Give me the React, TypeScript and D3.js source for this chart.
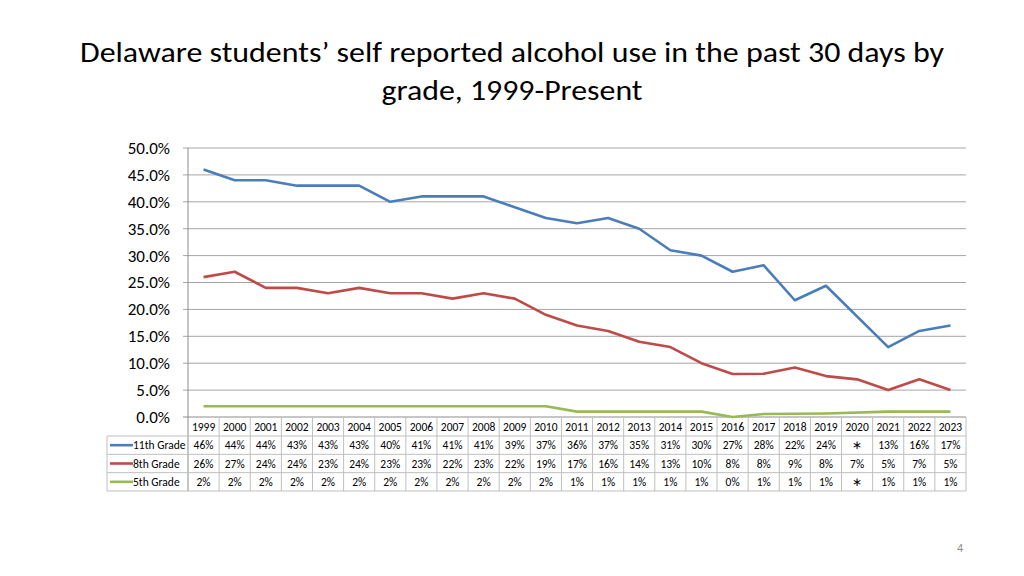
import React from 'react';
import * as d3 from 'd3';

const years = ['1999','2000','2001','2002','2003','2004','2005','2006','2007','2008','2009','2010','2011','2012','2013','2014','2015','2016','2017','2018','2019','2020','2021','2022','2023'];
const grade11: (number | null)[] = [46,44,44,43,43,43,40,41,41,41,39,37,36,37,35,31,30,27,28.2,21.7,24.4,null,13,16,17];
const grade8: (number | null)[] = [26,27,24,24,23,24,23,23,22,23,22,19,17,16,14,13,10,8,8.05,9.2,7.6,7,5,7,5];
const grade5: (number | null)[] = [2,2,2,2,2,2,2,2,2,2,2,2,1,1,1,1,1,0,0.55,0.6,0.65,null,1,1,1];
const seriesNames = ['11th Grade', '8th Grade', '5th Grade'];
const yTicks = [0, 5, 10, 15, 20, 25, 30, 35, 40, 45, 50];
const titleLines = ['Delaware students\u2019 self reported alcohol use in the past 30 days by', 'grade, 1999-Present'];

const colors = ['#4A7EBB', '#BE4B48', '#98B954'];
const FONT = 'Carlito, Calibri, Lato, sans-serif';

export default function App() {
  const W = 1024, H = 576;
  const left = 188, right = 966, top = 148, bottom = 417;
  const x = d3.scaleBand<string>().domain(years).range([left, right]);
  const y = d3.scaleLinear().domain([0, 50]).range([bottom, top]);
  const cx = (yr: string) => (x(yr) as number) + x.bandwidth() / 2;

  const series = [grade11, grade8, grade5];
  const line = d3.line<{ yr: string; v: number }>().x(d => cx(d.yr)).y(d => y(d.v));

  const headerTop = bottom, headerH = 19, rowH = 18.33;
  const tableLeft = 107;
  const rowTops = [0, 1, 2].map(i => headerTop + headerH + i * rowH);
  const tableBottom = headerTop + headerH + 3 * rowH;
  const border = '#bfbfbf';

  const fmt = (v: number | null) => (v === null ? '\u2217' : `${Math.round(v)}%`);

  return (
    <div style={{ position: 'absolute', left: 0, top: 0 }}>
      <svg width={W} height={H} style={{ display: 'block', background: '#fff' }} fontFamily={FONT}>
        <rect width={W} height={H} fill="#fff" />
        <text x={512} y={62} textAnchor="middle" fontSize={29} fill="#000" textLength={864} lengthAdjust="spacingAndGlyphs">{titleLines[0]}</text>
        <text x={512} y={100} textAnchor="middle" fontSize={29} fill="#000" textLength={261} lengthAdjust="spacingAndGlyphs">{titleLines[1]}</text>

        {yTicks.map(t => (
          <g key={t}>
            <line x1={left - 5} x2={right} y1={y(t)} y2={y(t)} stroke={t === 0 ? '#8c8c8c' : '#a6a6a6'} strokeWidth={1} />
            <text x={170} y={y(t)} dy="0.35em" textAnchor="end" fontSize={17} fill="#000">{t.toFixed(1)}%</text>
          </g>
        ))}
        <line x1={left} x2={left} y1={top} y2={bottom} stroke="#8c8c8c" strokeWidth={1} />

        {series.map((s, i) => {
          const pts = s.map((v, j) => ({ yr: years[j], v })).filter(d => d.v !== null) as { yr: string; v: number }[];
          return <path key={i} d={line(pts) || ''} fill="none" stroke={colors[i]} strokeWidth={2.6} strokeLinejoin="round" />;
        })}

        {years.map(yr => (
          <text key={yr} x={cx(yr)} y={headerTop + headerH / 2} dy="0.35em" textAnchor="middle" fontSize={11.5} fill="#000">{yr}</text>
        ))}
        {d3.range(years.length + 1).map(k => {
          const xx = left + k * x.bandwidth();
          return <line key={k} x1={xx} x2={xx} y1={headerTop} y2={tableBottom} stroke={k === 0 ? '#8c8c8c' : border} strokeWidth={1} />;
        })}
        <line x1={tableLeft} x2={tableLeft} y1={rowTops[0]} y2={tableBottom} stroke={border} strokeWidth={1} />
        {[...rowTops, tableBottom].map((yy, k) => (
          <line key={k} x1={tableLeft} x2={right} y1={yy} y2={yy} stroke={border} strokeWidth={1} />
        ))}
        {series.map((s, i) => {
          const cy = rowTops[i] + rowH / 2;
          return (
            <g key={i}>
              <line x1={110} x2={133} y1={cy} y2={cy} stroke={colors[i]} strokeWidth={2.6} />
              <text x={133} y={cy} dy="0.35em" fontSize={11.5} fill="#000">{seriesNames[i]}</text>
              {s.map((v, j) => (
                <text key={j} x={cx(years[j])} y={cy} dy="0.35em" textAnchor="middle" fontSize={11.5} fill="#000">{fmt(v)}</text>
              ))}
            </g>
          );
        })}

        <text x={960} y={552} textAnchor="middle" fontSize={12} fill="#8c8c8c">4</text>
      </svg>
    </div>
  );
}
